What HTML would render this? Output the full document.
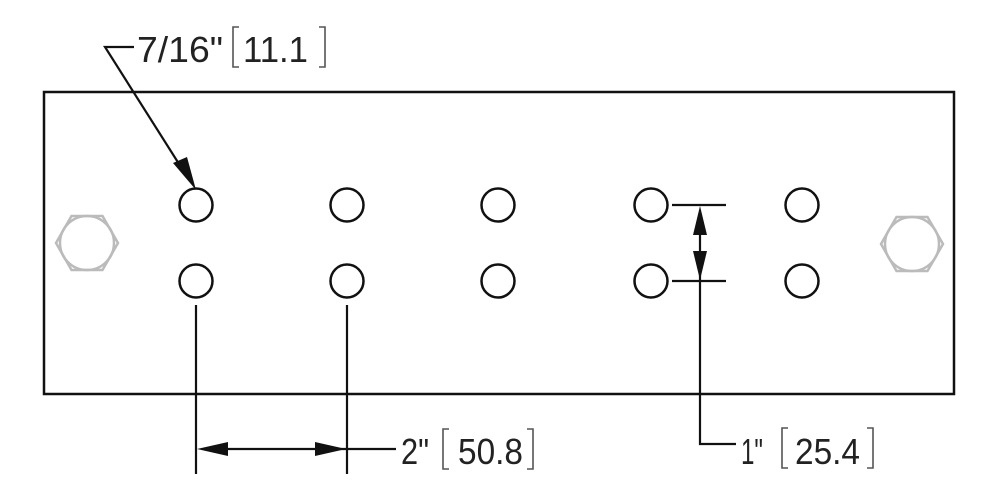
<!DOCTYPE html>
<html><head><meta charset="utf-8"><style>
html,body{margin:0;padding:0;background:#fff;}
svg{display:block;}
text{font-family:"Liberation Sans",sans-serif;fill:#222;}
</style></head><body>
<svg width="1000" height="500" viewBox="0 0 1000 500" xmlns="http://www.w3.org/2000/svg">
<rect x="44" y="92" width="910" height="302" fill="none" stroke="#111" stroke-width="2.5"/>
<g fill="none" stroke="#111" stroke-width="2.5">
<circle cx="196" cy="205" r="16.5"/><circle cx="347" cy="205" r="16.5"/><circle cx="498" cy="205" r="16.5"/><circle cx="651" cy="205" r="16.5"/><circle cx="802" cy="205" r="16.5"/>
<circle cx="196" cy="281" r="16.5"/><circle cx="347" cy="281" r="16.5"/><circle cx="498" cy="281" r="16.5"/><circle cx="651" cy="281" r="16.5"/><circle cx="802" cy="281" r="16.5"/>
</g>
<g fill="none" stroke="#bbb" stroke-width="2.5">
<polygon points="56,243 71.5,216 102.5,216 118,243 102.5,270 71.5,270"/><circle cx="87" cy="243" r="27"/>
<polygon points="881,244 896.5,217 927.5,217 943,244 927.5,271 896.5,271"/><circle cx="912" cy="244" r="27"/>
</g>
<g stroke="#111" stroke-width="2.2" fill="none">
<polyline points="134,47 105,47 186,175"/>
<line x1="196" y1="305" x2="196" y2="474"/><line x1="347" y1="305" x2="347" y2="474"/>
<line x1="210" y1="449" x2="396" y2="449"/>
<line x1="672" y1="205" x2="726" y2="205"/><line x1="672" y1="281" x2="726" y2="281"/>
<polyline points="700,218 700,444 736,444"/>
</g>
<g fill="#111">
<polygon points="196,190 173,163 187,157"/>
<polygon points="197,449 228,442 228,456"/>
<polygon points="346,449 315,442 315,456"/>
<polygon points="700,206 693,235 707,235"/>
<polygon points="700,280 693,251 707,251"/>
</g>
<g stroke="#555" stroke-width="1.6" fill="none">
<polyline points="239,27 233,27 233,67 239,67"/>
<polyline points="319,27 325,27 325,67 319,67"/>
<polyline points="449,429 443,429 443,469 449,469"/>
<polyline points="527,429 533,429 533,469 527,469"/>
<polyline points="788,428 782,428 782,468 788,468"/>
<polyline points="867,428 873,428 873,468 867,468"/>
</g>
<text x="137" y="62" font-size="36" textLength="86" lengthAdjust="spacingAndGlyphs">7/16"</text>
<text x="243" y="62" font-size="36" textLength="65" lengthAdjust="spacingAndGlyphs">11.1</text>
<text x="401" y="464" font-size="36" textLength="28" lengthAdjust="spacingAndGlyphs">2"</text>
<text x="458" y="464" font-size="36" textLength="65" lengthAdjust="spacingAndGlyphs">50.8</text>
<text x="741" y="464" font-size="36" textLength="22" lengthAdjust="spacingAndGlyphs">1"</text>
<text x="795" y="464" font-size="36" textLength="65" lengthAdjust="spacingAndGlyphs">25.4</text>
</svg>
</body></html>
